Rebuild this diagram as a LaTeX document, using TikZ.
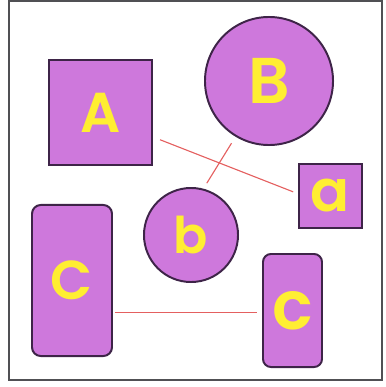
\documentclass[tikz,border=0pt]{standalone}
\usepackage{fontspec}
\newfontfamily\letterfont{Poppins}[UprightFont={* SemiBold}]
\usetikzlibrary{positioning}
\definecolor{shapefill}{RGB}{206,120,220}
\definecolor{shapeline}{RGB}{62,36,72}
\definecolor{lettercol}{RGB}{255,238,50}
\definecolor{linkcol}{RGB}{228,96,96}
\definecolor{framecol}{RGB}{80,80,84}

\begin{document}
\begin{tikzpicture}[
  x=0.025cm, y=-0.025cm,
  box/.style={rectangle, draw=shapeline, line width=1.4pt, fill=shapefill, inner sep=0pt,
              text=lettercol, font=\letterfont},
  disc/.style={circle, draw=shapeline, line width=1.4pt, fill=shapefill, inner sep=0pt,
               text=lettercol, font=\letterfont},
  link/.style={draw=linkcol, line width=0.8pt}
]
\useasboundingbox (0,0) rectangle (386,387);
\draw[framecol, line width=1.5pt] (9,1) rectangle (382,380);

\node[box, minimum width=2.575cm, minimum height=2.625cm, font=\letterfont\fontsize{40}{40}\selectfont] (A) at (100.5,112.5) {A};
\node[disc, minimum size=3.2cm, font=\letterfont\fontsize{46}{46}\selectfont] (B) at (269,81) {B};
\node[box, minimum width=1.575cm, minimum height=1.6cm, font=\letterfont\fontsize{41}{41}\selectfont] (a) at (330.5,196) {a};
\node[disc, minimum size=2.35cm, font=\letterfont\fontsize{36}{36}\selectfont] (b) at (191,235) {b};
\node[box, rounded corners=0.22cm, minimum width=2cm, minimum height=3.775cm, font=\letterfont\fontsize{39}{39}\selectfont] (C) at (72,280.5) {C};
\node[box, rounded corners=0.2cm, minimum width=1.475cm, minimum height=2.825cm, font=\letterfont\fontsize{48}{48}\selectfont] (c) at (292.5,310.5) {c};

\draw[link, shorten <=0.19cm, shorten >=0.13cm] (A.-25) -- (a.176);
\draw[link, shorten <=0.19cm, shorten >=0.16cm] (B.-121) -- (b.75);
\draw[link, shorten <=0.05cm, shorten >=0.12cm] (C.-38) -- (C.-38 -| c.west);
\end{tikzpicture}
\end{document}
